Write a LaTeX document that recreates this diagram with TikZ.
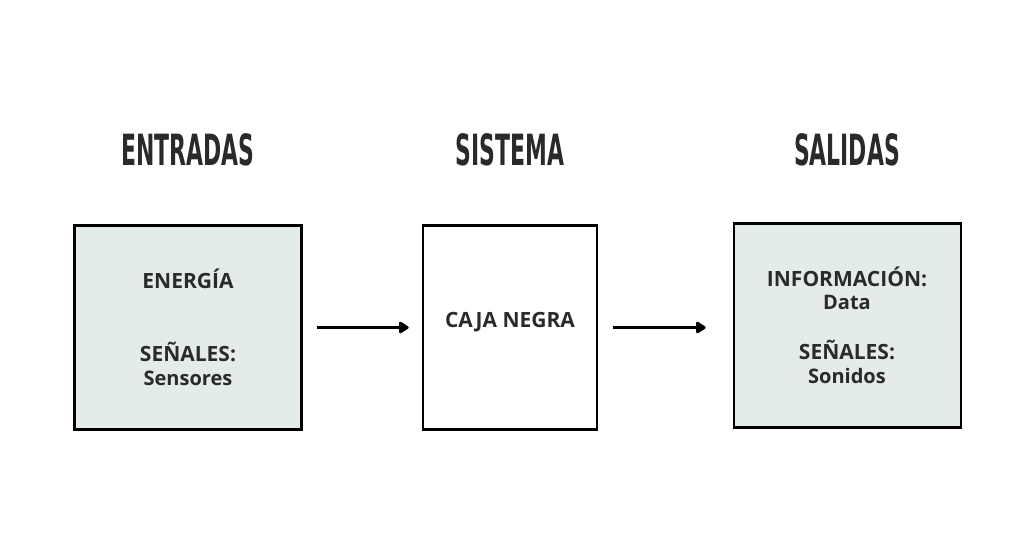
\documentclass[tikz,border=0pt]{standalone}
\usepackage{fontspec}
\setmainfont{Open Sans}
\newfontfamily\headfont{DejaVu Sans}[FakeStretch=0.51]
\usetikzlibrary{arrows.meta}
\definecolor{ink}{HTML}{2A2A2A}
\definecolor{sage}{HTML}{E4ECE7}
\begin{document}
\begin{tikzpicture}[x=1pt,y=-1pt,
    head/.style={text=ink,font=\headfont\bfseries\fontsize{43}{43}\selectfont},
    blk/.style={draw=black,line width=2.6pt,inner sep=0pt},
    big/.style={text=ink,font=\bfseries\fontsize{21}{23}\selectfont},
    small/.style={text=ink,font=\bfseries\fontsize{20}{22}\selectfont},
    flow/.style={line width=3.6pt,-{Triangle[length=11pt,width=13pt,round]}}]
        \useasboundingbox[fill=white] (0,0) rectangle (1036,559);
        % headings
        \node[head] (hin) at (188,150) {ENTRADAS};
        \node[head] (hsys) at (510,150) {SISTEMA};
        \node[head] (hout) at (847,150) {SALIDAS};
        % boxes
        \node[blk,fill=sage,minimum width=227pt,minimum height=204pt] (ent) at (188,327.5) {};
        \node[blk,fill=white,minimum width=174pt,minimum height=204pt] (sis) at (510,327.5) {};
        \node[blk,fill=sage,minimum width=227pt,minimum height=204pt] (sal) at (847.5,325.5) {};
        % texts
        \node[big] (en) at (188,279) {ENERGÍA};
        \node[big] (sen1) at (188,352) {SEÑALES:};
        \node[small] (sens) at (188,378) {Sensores};
        \node[big] (caja) at (510,322) {CAJA NEGRA};
        \node[big] (inf) at (847,277) {INFORMACIÓN:};
        \node[small] (dat) at (847,302) {Data};
        \node[big] (sen2) at (847,350) {SEÑALES:};
        \node[small] (son) at (847,376) {Sonidos};
        % arrows
        \draw[flow,shorten <=14pt,shorten >=13pt] (ent.east) -- (ent.east -| sis.west);
        \draw[flow,shorten <=15pt,shorten >=27pt] (sis.east) -- (sis.east -| sal.west);
\end{tikzpicture}
\end{document}
